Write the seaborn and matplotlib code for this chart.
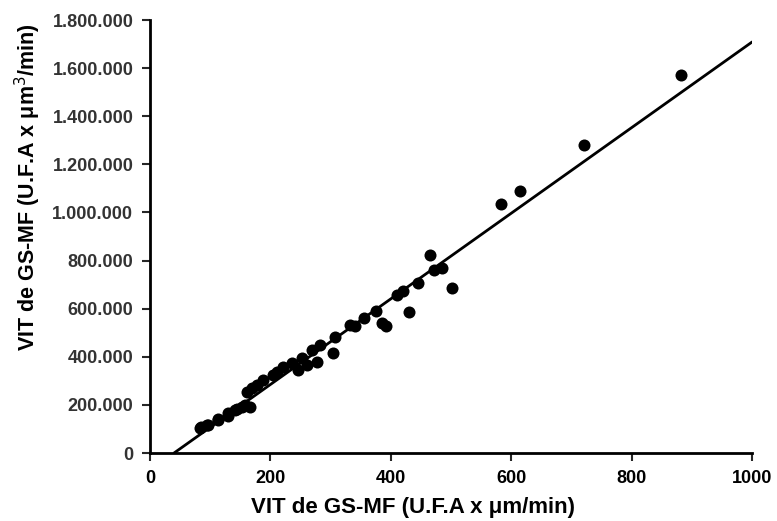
import numpy as np
import pandas as pd
import seaborn as sns
import matplotlib.pyplot as plt
from matplotlib.ticker import FuncFormatter

# VIT values (x: um/min, y: um3/min)
vit_um = [83, 85, 95, 96, 113, 113, 130, 130, 141, 145, 153, 158, 161, 166,
          170, 178, 188, 205, 211, 221, 236, 246, 252, 261, 269, 277, 282,
          304, 307, 332, 340, 355, 375, 385, 392, 410, 420, 430, 445, 465,
          472, 485, 502, 583, 615, 720, 882]
vit_um3 = [104000, 108000, 116000, 118000, 137000, 140000, 166000, 155000,
           179000, 185000, 191000, 200000, 254000, 191000, 272000, 283000,
           303000, 325000, 337000, 357000, 374000, 345000, 395000, 366000,
           428000, 378000, 449000, 416000, 482000, 532000, 530000, 560000,
           590000, 540000, 530000, 655000, 675000, 585000, 705000, 825000,
           760000, 770000, 688000, 1035000, 1090000, 1280000, 1570000]

# regression line end points
fit_x = [40, 1000]
fit_y = [0, 1709000]

df = pd.DataFrame({"um": vit_um, "um3": vit_um3})
line_df = pd.DataFrame({"x": fit_x, "y": fit_y})

sns.set_theme(style="ticks")
plt.rcParams['font.family'] = ['Liberation Sans', 'DejaVu Sans']

fig = plt.figure(figsize=(7.77, 5.21), dpi=100)
ax = fig.add_axes([0.193, 0.1305, 0.775, 0.831])

sns.lineplot(data=line_df, x="x", y="y", ax=ax, color="black", linewidth=2)
sns.scatterplot(data=df, x="um", y="um3", ax=ax, color="black", s=75,
                edgecolor="black", linewidth=0, zorder=3)

ax.set_xlim(0, 1000)
ax.set_ylim(0, 1800000)
ax.set_xticks(np.arange(0, 1001, 200))
ax.set_yticks(np.arange(0, 1800001, 200000))
ax.yaxis.set_major_formatter(FuncFormatter(lambda v, p: f"{int(v):,}".replace(",", ".")))

for lbl in ax.get_xticklabels():
    lbl.set_fontsize(13)
    lbl.set_fontweight("bold")
    lbl.set_color("black")
for lbl in ax.get_yticklabels():
    lbl.set_fontsize(13)
    lbl.set_fontweight("bold")
    lbl.set_color("#333333")

ax.tick_params(axis='both', direction='out', length=6, width=1.5, pad=6)
for side in ["left", "bottom"]:
    ax.spines[side].set_linewidth(2)
    ax.spines[side].set_color("black")
sns.despine(ax=ax)

ax.set_xlabel("VIT de GS-MF (U.F.A x μm/min)", fontsize=16, fontweight="bold", color="black")
ax.set_ylabel("VIT de GS-MF (U.F.A x μm$^3$/min)", fontsize=15.5, fontweight="bold", color="black")
ax.xaxis.set_label_coords(0.437, -0.102)
ax.yaxis.set_label_coords(-0.178, 0.615)

plt.savefig("out.png", dpi=100)
